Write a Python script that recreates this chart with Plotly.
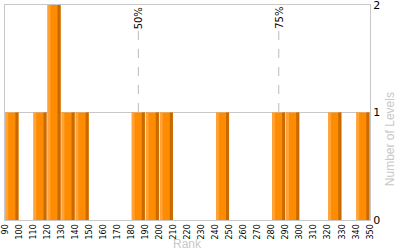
import plotly.graph_objects as go

# Data
bin_starts = [90, 110, 120, 130, 140, 180, 190, 200, 240, 280, 290, 320, 340]
level_counts = [1, 1, 2, 1, 1, 1, 1, 1, 1, 1, 1, 1, 1]
x_ticks = list(range(90, 351, 10))
y_ticks = [0, 1, 2]
percentile_marks = [185, 285]
percentile_labels = ["50%", "75%"]

fig = go.Figure()
# main body
fig.add_trace(go.Bar(x=bin_starts, y=level_counts, offset=0.3, width=9.3,
                     marker=dict(color="#FF8C00", line=dict(width=0)), hoverinfo="skip"))
# light left edge
fig.add_trace(go.Bar(x=bin_starts, y=level_counts, offset=0.3, width=2.0,
                     marker=dict(color="#FFA238", line=dict(width=0)), hoverinfo="skip"))
# dark right edge
fig.add_trace(go.Bar(x=bin_starts, y=level_counts, offset=7.4, width=2.2,
                     marker=dict(color="#C86A00", line=dict(width=0)), hoverinfo="skip"))

for xv, lab in zip(percentile_marks, percentile_labels):
    fig.add_shape(type="line", x0=xv, x1=xv, y0=0, y1=1.78, xref="x", yref="y",
                  line=dict(color="#BBBBBB", width=1, dash="dash"), layer="below")
    fig.add_annotation(x=xv, y=2, xref="x", yref="y", text=lab, textangle=-90,
                       showarrow=False, yanchor="top", xanchor="center",
                       font=dict(family="DejaVu Sans", size=10, color="#000000"))

fig.add_annotation(x=0.5, y=-0.112, xref="paper", yref="paper", text="Rank",
                   showarrow=False, yanchor="middle", xanchor="center",
                   font=dict(family="Liberation Sans", size=12, color="#C8C8C8"))
fig.add_annotation(x=1.08, y=0.377, xref="paper", yref="paper", text="Number of Levels",
                   textangle=-90, showarrow=False, xanchor="right", yanchor="middle",
                   font=dict(family="Liberation Sans", size=12, color="#C8C8C8"))

fig.update_layout(
    width=400, height=250,
    margin=dict(l=5, r=30, t=5, b=30),
    barmode="overlay", showlegend=False,
    paper_bgcolor="white", plot_bgcolor="white",
    hovermode=False,
    xaxis=dict(range=[90, 350], tickvals=x_ticks, ticktext=[str(v) for v in x_ticks],
               tickangle=-90, showgrid=False, zeroline=False, automargin=False,
               showline=True, linecolor="#C8C8C8", linewidth=1, mirror=True,
               ticks="", ticklabeloverflow="allow",
               tickfont=dict(family="DejaVu Sans", size=8, color="#000000")),
    yaxis=dict(range=[0, 2], tickvals=y_ticks, side="right", automargin=False,
               showgrid=True, gridcolor="#C8C8C8", zeroline=False,
               showline=True, linecolor="#C8C8C8", linewidth=1, mirror=True,
               ticks="", ticklabeloverflow="allow",
               tickfont=dict(family="DejaVu Sans", size=11, color="#000000")),
)

fig.write_html("out.html")
